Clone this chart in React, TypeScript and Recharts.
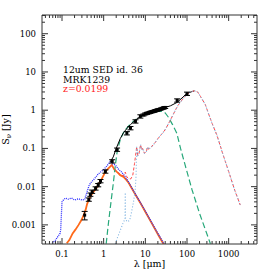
import React from 'react';
import { ComposedChart, Line, Scatter, ErrorBar, XAxis, YAxis } from 'recharts';

// wavelength in micron, flux density in Jy
const blueLambda = [0.058, 0.07, 0.08, 0.09, 0.093, 0.097, 0.1, 0.11, 0.12, 0.14, 0.17, 0.2, 0.25, 0.3, 0.35, 0.4, 0.45, 0.5, 0.6, 0.7, 0.8, 1.0, 1.2, 1.45, 1.6, 1.9, 2.3, 2.7, 3.2, 4.0, 6.0, 8.0, 10, 15, 20, 28];
const blueFlux = [0.00033, 0.0004, 0.0005, 0.0006, 0.00075, 0.002, 0.004, 0.0046, 0.005, 0.0047, 0.005, 0.0045, 0.0048, 0.0045, 0.0046, 0.0074, 0.011, 0.013, 0.016, 0.02, 0.023, 0.028, 0.035, 0.046, 0.04, 0.037, 0.028, 0.024, 0.019, 0.013, 0.006, 0.0035, 0.0023, 0.00105, 0.0006, 0.00032];

const stellarLambda = [0.13, 0.15, 0.18, 0.21, 0.25, 0.3, 0.33, 0.37, 0.4, 0.44, 0.5, 0.6, 0.7, 0.8, 0.9, 1.0, 1.1, 1.3, 1.57, 1.8, 2.2, 2.5, 3.0, 3.5, 4.0, 6.0, 8.0, 10, 15, 20, 28];
const stellarFlux = [0.00033, 0.0004, 0.0006, 0.00075, 0.001, 0.0014, 0.0018, 0.0025, 0.0035, 0.0046, 0.006, 0.0078, 0.01, 0.013, 0.016, 0.02, 0.025, 0.03, 0.037, 0.028, 0.023, 0.02, 0.018, 0.015, 0.0125, 0.0058, 0.0034, 0.0022, 0.001, 0.00057, 0.0003];

const torusLambda = [1.15, 1.3, 1.5, 1.7, 1.9, 2.1, 2.5, 3.0, 3.5, 4.5, 6, 8, 10, 12, 15, 20, 25, 30, 36, 45, 57, 70, 90, 132, 200, 270, 365];
const torusFlux = [0.00032, 0.0011, 0.004, 0.012, 0.035, 0.08, 0.17, 0.26, 0.33, 0.45, 0.58, 0.7, 0.8, 0.85, 0.9, 0.93, 0.93, 0.85, 0.65, 0.42, 0.25, 0.1, 0.037, 0.0083, 0.002, 0.0008, 0.00032];

const starburstLambda = [1.9, 2.2, 2.6, 3.0, 3.25, 3.3, 3.35, 3.7, 4.2, 4.6, 5.2, 5.7, 6.0, 6.2, 6.6, 7.0, 7.7, 8.2, 8.6, 9.5, 10.5, 11.3, 12, 12.7, 14, 17, 20, 25, 30, 40, 50, 60, 80, 100, 120, 150, 180, 210, 275, 330, 400, 525, 700, 1000, 1400, 1900];
const starburstFlux = [0.00032, 0.0005, 0.0008, 0.0012, 0.0014, 0.007, 0.0014, 0.0012, 0.0013, 0.002, 0.004, 0.008, 0.02, 0.11, 0.065, 0.07, 0.125, 0.09, 0.1, 0.075, 0.08, 0.11, 0.095, 0.1, 0.11, 0.14, 0.18, 0.24, 0.31, 0.55, 0.9, 1.3, 2.0, 2.6, 3.0, 3.2, 3.0, 2.3, 1.4, 0.8, 0.45, 0.22, 0.08, 0.025, 0.008, 0.0033];

const hostSbLambda = [1.5, 2.0, 2.5, 3.0, 3.3, 3.6, 4.0, 4.5, 5.0, 5.5, 6.2, 6.6, 7.0, 7.7, 8.2, 8.6, 9.5, 10.5, 11.3, 12, 12.7, 14, 17, 20, 25, 30, 40, 50, 60, 80, 100, 120, 150, 180, 210, 275, 330, 400, 525, 700, 1000, 1400, 1900];
const hostSbFlux = [0.037, 0.026, 0.021, 0.019, 0.024, 0.018, 0.016, 0.016, 0.02, 0.04, 0.11, 0.065, 0.07, 0.125, 0.09, 0.1, 0.075, 0.08, 0.11, 0.095, 0.1, 0.11, 0.14, 0.18, 0.24, 0.31, 0.55, 0.9, 1.3, 2.0, 2.6, 3.0, 3.2, 3.0, 2.3, 1.4, 0.8, 0.45, 0.22, 0.08, 0.025, 0.008, 0.0033];

const totalLambda = [1.45, 1.7, 2.0, 2.5, 3.0, 3.6, 4.4, 5.8, 7.6, 10, 12, 16, 21, 28, 40, 58, 80, 100, 130, 150];
const totalFlux = [0.045, 0.06, 0.1, 0.18, 0.26, 0.33, 0.42, 0.55, 0.68, 0.8, 0.87, 0.95, 1.05, 1.15, 1.3, 1.6, 2.2, 2.75, 3.05, 3.2];

const photLambda = [0.35, 0.44, 0.48, 0.53, 0.64, 0.74, 0.84, 1.1, 1.6, 2.1, 3.6, 4.4, 5.8, 7.6, 9, 10, 11, 12, 13, 14, 15, 16, 17, 18, 19, 20, 22, 24, 26, 28, 30, 58, 100];
const photFlux = [0.0018, 0.0046, 0.0062, 0.0074, 0.009, 0.011, 0.014, 0.025, 0.046, 0.093, 0.25, 0.34, 0.51, 0.69, 0.75, 0.8, 0.83, 0.85, 0.88, 0.9, 0.92, 0.94, 0.96, 0.98, 1.0, 1.02, 1.05, 1.08, 1.12, 1.15, 1.18, 1.8, 2.7];
const photRelErr = [0.25, 0.1, 0.1, 0.1, 0.1, 0.1, 0.1, 0.1, 0.1, 0.1, 0.1, 0.1, 0.1, 0.1, 0.06, 0.06, 0.06, 0.06, 0.06, 0.06, 0.06, 0.06, 0.06, 0.06, 0.06, 0.06, 0.06, 0.06, 0.06, 0.06, 0.06, 0.1, 0.1];

const xLabels: Record<string, string> = { '0.1': '0.1', '1': '1', '10': '10', '100': '100', '1000': '1000' };
const yLabels: Record<string, string> = { '0.001': '0.001', '0.01': '0.01', '0.1': '0.1', '1': '1', '10': '10', '100': '100' };

const X_DOMAIN: [number, number] = [Math.pow(10, -1.48), Math.pow(10, 3.68)];
const Y_DOMAIN: [number, number] = [Math.pow(10, -3.5), Math.pow(10, 2.49)];

const pts = (l: number[], f: number[]) => l.map((x, i) => ({ lambda: x, flux: f[i] }));

const logTicks = (lo: number, hi: number) => {
  const out: number[] = [];
  for (let e = Math.floor(Math.log10(lo)); e <= Math.ceil(Math.log10(hi)); e++) {
    for (let m = 1; m < 10; m++) {
      const v = parseFloat((m * Math.pow(10, e)).toPrecision(6));
      if (v >= lo && v <= hi) out.push(v);
    }
  }
  return out;
};

const isMajor = (v: number) => Math.abs(Math.log10(v) - Math.round(Math.log10(v))) < 1e-6;
const key = (v: number) => String(parseFloat(v.toPrecision(6)));

const FONT = '"DejaVu Serif", serif';
const AXIS = '#333';

const XTick = (props: any) => {
  const { x, y, payload, top } = props;
  const major = isMajor(payload.value);
  const len = major ? 6 : 3;
  return (
    <g>
      <line x1={x} x2={x} y1={y} y2={top ? y + len : y - len} stroke={AXIS} strokeWidth={1} />
      {!top && major && (
        <text x={x} y={y + 13} textAnchor="middle" fontSize={8.5} fontFamily={FONT} fill="#000">
          {xLabels[key(payload.value)]}
        </text>
      )}
    </g>
  );
};

const YTick = (props: any) => {
  const { x, y, payload, right } = props;
  const major = isMajor(payload.value);
  const len = major ? 6 : 3;
  return (
    <g>
      <line x1={x} x2={right ? x - len : x + len} y1={y} y2={y} stroke={AXIS} strokeWidth={1} />
      {!right && major && (
        <text x={x - 6} y={y + 3} textAnchor="end" fontSize={8.5} fontFamily={FONT} fill="#000">
          {yLabels[key(payload.value)]}
        </text>
      )}
    </g>
  );
};

const XLabel = ({ viewBox }: any) => (
  <text x={viewBox.x + viewBox.width / 2} y={viewBox.y + 23} textAnchor="middle" fontSize={9.5} fontFamily={FONT} fill="#000">
    λ [μm]
  </text>
);

const YLabel = ({ viewBox }: any) => {
  const cx = 9;
  const cy = viewBox.y + viewBox.height / 2;
  return (
    <text x={cx} y={cy} transform={`rotate(-90 ${cx} ${cy})`} textAnchor="middle" fontSize={9.5} fontFamily={FONT} fill="#000">
      S<tspan fontSize={7} dy={2}>ν</tspan>
      <tspan dy={-2}> [Jy]</tspan>
    </text>
  );
};

const Marker = (props: any) => {
  const { cx, cy } = props;
  return <rect x={cx - 1.5} y={cy - 1.5} width={3} height={3} fill="#000" />;
};

export default function App() {
  const xTicks = logTicks(X_DOMAIN[0], X_DOMAIN[1]);
  const yTicks = logTicks(Y_DOMAIN[0], Y_DOMAIN[1]);
  const phot = photLambda.map((l, i) => ({
    lambda: l,
    flux: photFlux[i],
    err: [photFlux[i] * photRelErr[i], photFlux[i] * photRelErr[i]],
  }));

  return (
    <div style={{ position: 'absolute', left: 0, top: 0, width: 273, height: 273, background: '#fff' }}>
      <ComposedChart width={273} height={273} margin={{ top: 10, right: 11, bottom: 0, left: 0 }}>
        <XAxis
          dataKey="lambda"
          type="number"
          scale="log"
          domain={X_DOMAIN}
          allowDataOverflow
          ticks={xTicks}
          interval={0}
          tickSize={0}
          tickMargin={0}
          height={29}
          stroke={AXIS}
          tick={<XTick />}
          label={<XLabel />}
        />
        <XAxis
          xAxisId="top"
          orientation="top"
          dataKey="lambda"
          type="number"
          scale="log"
          domain={X_DOMAIN}
          allowDataOverflow
          ticks={xTicks}
          interval={0}
          tickSize={0}
          tickMargin={0}
          height={5}
          stroke={AXIS}
          tick={<XTick top />}
        />
        <YAxis
          type="number"
          scale="log"
          domain={Y_DOMAIN}
          allowDataOverflow
          ticks={yTicks}
          interval={0}
          tickSize={0}
          tickMargin={0}
          width={42}
          stroke={AXIS}
          tick={<YTick />}
          label={<YLabel />}
        />
        <YAxis
          yAxisId="right"
          orientation="right"
          type="number"
          scale="log"
          domain={Y_DOMAIN}
          allowDataOverflow
          ticks={yTicks}
          interval={0}
          tickSize={0}
          tickMargin={0}
          width={5}
          stroke={AXIS}
          tick={<YTick right />}
        />
        <Line data={pts(stellarLambda, stellarFlux)} dataKey="flux" stroke="#ff6a1a" strokeWidth={1.8} dot={false} isAnimationActive={false} />
        <Line data={pts(blueLambda, blueFlux)} dataKey="flux" stroke="#2b2bff" strokeWidth={1.3} strokeDasharray="1 1" dot={false} isAnimationActive={false} />
        <Line data={pts(torusLambda, torusFlux)} dataKey="flux" stroke="#27a87a" strokeWidth={1.2} strokeDasharray="6 3" dot={false} isAnimationActive={false} />
        <Line data={pts(totalLambda, totalFlux)} dataKey="flux" stroke="#000" strokeWidth={1} dot={false} isAnimationActive={false} />
        <Line data={pts(hostSbLambda, hostSbFlux)} dataKey="flux" stroke="#ff4a4a" strokeWidth={1} strokeDasharray="3 2" dot={false} isAnimationActive={false} />
        <Line data={pts(starburstLambda, starburstFlux)} dataKey="flux" stroke="#7fb3e0" strokeWidth={1.1} strokeDasharray="1 2" dot={false} isAnimationActive={false} />
        <Scatter data={phot} dataKey="flux" shape={<Marker />} isAnimationActive={false}>
          <ErrorBar dataKey="err" direction="y" width={3} stroke="#000" strokeWidth={1} />
        </Scatter>
      </ComposedChart>
      <div style={{ position: 'absolute', left: 63, top: 65, fontFamily: FONT, fontSize: 9.3, lineHeight: '9.5px', whiteSpace: 'nowrap' }}>
        <div style={{ color: '#000' }}>12um SED id. 36</div>
        <div style={{ color: '#000' }}>MRK1239</div>
        <div style={{ color: '#ff2020' }}>z=0.0199</div>
      </div>
    </div>
  );
}
